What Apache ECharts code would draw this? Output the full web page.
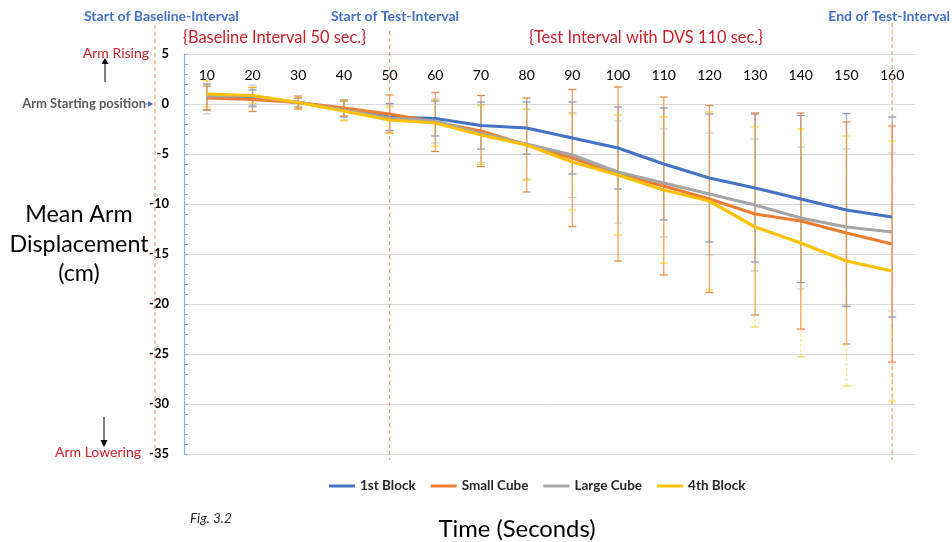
<!DOCTYPE html>
<html>
<head>
<meta charset="utf-8">
<script src="https://cdn.jsdelivr.net/npm/echarts@6/dist/echarts.min.js"></script>
<style>
html,body{margin:0;padding:0;background:#fff;}
#main{width:952px;height:542px;}
</style>
</head>
<body>
<div id="main"></div>
<script>
// ---- Data ----
const categories = ['10','20','30','40','50','60','70','80','90','100','110','120','130','140','150','160'];
const yTicks = [5, 0, -5, -10, -15, -20, -25, -30, -35];

const block1     = [0.7, 0.6, 0.15, -0.5, -1.3, -1.45, -2.15, -2.4, -3.4, -4.4, -6.0, -7.4, -8.4, -9.5, -10.6, -11.3];
const smallCube  = [0.6, 0.45, 0.15, -0.4, -1.0, -1.8, -2.7, -4.1, -5.4, -7.0, -8.2, -9.5, -11.0, -11.7, -12.9, -14.0];
const largeCube  = [0.8, 0.8, 0.15, -0.6, -1.4, -1.7, -2.95, -4.0, -5.1, -6.8, -7.9, -9.0, -10.1, -11.4, -12.3, -12.8];
const block4     = [1.0, 0.85, 0.15, -0.7, -1.6, -1.9, -3.1, -4.1, -5.8, -7.1, -8.6, -9.7, -12.3, -13.9, -15.7, -16.7];

const block1Err    = [1.3, 0.8, 0.45, 0.8, 1.35, 1.75, 2.35, 2.6, 3.6, 4.1, 5.6, 6.4, 7.4, 8.35, 9.65, 10.0];
const smallCubeErr = [1.2, 1.2, 0.65, 0.8, 1.9, 2.95, 3.55, 4.7, 6.85, 8.7, 8.9, 9.35, 10.1, 10.8, 11.1, 11.8];
const largeCubeErr = [1.8, 1.1, 0.5, 1.0, 1.3, 2.2, 2.9, 3.5, 4.25, 5.1, 5.4, 6.1, 6.6, 7.1, 7.8, 7.9];
const block4Err    = [1.3, 0.8, 0.5, 1.0, 1.3, 2.3, 2.95, 3.55, 4.8, 6.0, 7.3, 8.9, 10.0, 11.4, 12.5, 13.0];

const seriesNames = ['1st Block', 'Small Cube', 'Large Cube', '4th Block'];
const colors = ['#4472C4', '#ED7D31', '#A5A5A5', '#FFC000'];

const FONT = 'Lato, "Open Sans", sans-serif';

function errSeries(idx, vals, errs, color, opacity, dashed) {
  return {
    type: 'custom',
    name: 'err' + idx,
    silent: true,
    z: 1,
    encode: { x: 0, y: [1, 2] },
    data: vals.map((v, i) => [i, v - errs[i], v + errs[i]]),
    renderItem: function (params, api) {
      const lo = api.coord([api.value(0), api.value(1)]);
      const hi = api.coord([api.value(0), api.value(2)]);
      const w = 4;
      const st = { stroke: color, lineWidth: 1.3, opacity: Math.min(1, opacity + 0.2) };
      const stv = { stroke: color, lineWidth: 1.3, opacity: opacity, lineDash: dashed ? [3, 2] : null };
      return {
        type: 'group',
        children: [
          { type: 'line', shape: { x1: lo[0], y1: lo[1], x2: hi[0], y2: hi[1] }, style: stv },
          { type: 'line', shape: { x1: lo[0] - w, y1: lo[1], x2: lo[0] + w, y2: lo[1] }, style: st },
          { type: 'line', shape: { x1: hi[0] - w, y1: hi[1], x2: hi[0] + w, y2: hi[1] }, style: st }
        ]
      };
    }
  };
}

function lineSeries(i, data) {
  return {
    type: 'line',
    name: seriesNames[i],
    data: data,
    symbol: 'none',
    z: 3 + i,
    lineStyle: { color: colors[i], width: 3.2 },
    itemStyle: { color: colors[i] }
  };
}

const chart = echarts.init(document.getElementById('main'), null, { renderer: 'canvas' });

const option = {
  animation: false,
  backgroundColor: '#ffffff',
  grid: { left: 184, right: 37, top: 54, bottom: 88, containLabel: false },
  legend: {
    data: seriesNames,
    left: 324,
    top: 474,
    icon: 'rect',
    itemWidth: 26,
    itemHeight: 3,
    itemGap: 15,
    textStyle: { fontFamily: FONT, fontWeight: 'bold', fontSize: 13.5, color: '#262626' }
  },
  xAxis: {
    type: 'category',
    data: categories,
    position: 'top',
    boundaryGap: true,
    axisLine: { show: false },
    axisTick: { show: false },
    axisLabel: { inside: true, margin: 14, fontFamily: FONT, fontSize: 14, color: '#000000' },
    splitLine: { show: false }
  },
  yAxis: {
    type: 'value',
    min: -35,
    max: 5,
    interval: 5,
    axisLine: { show: true, lineStyle: { color: '#8FAADC', width: 1.2 } },
    axisTick: { show: true, inside: true, length: 4, lineStyle: { color: '#8FAADC' } },
    minorTick: { show: true, splitNumber: 5, length: 4, lineStyle: { color: '#8FAADC' } },
    axisLabel: {
      margin: 15, fontFamily: FONT, fontWeight: 'bold', fontSize: 13, color: '#000000',
      formatter: function (v) { return yTicks.indexOf(v) >= 0 ? String(v) : ''; }
    },
    splitLine: { show: true, lineStyle: { color: '#D9D9D9', width: 1 } }
  },
  series: [
    errSeries(0, block1, block1Err, colors[0], 0.5, false),
    errSeries(1, smallCube, smallCubeErr, colors[1], 0.7, false),
    errSeries(2, largeCube, largeCubeErr, colors[2], 0.35, false),
    errSeries(3, block4, block4Err, colors[3], 0.45, true),
    lineSeries(0, block1),
    lineSeries(1, smallCube),
    lineSeries(2, largeCube),
    lineSeries(3, block4)
  ]
};
chart.setOption(option);

// Annotation positions derived from the axes
const x50 = chart.convertToPixel({ xAxisIndex: 0 }, '50');
const x160 = chart.convertToPixel({ xAxisIndex: 0 }, '160');
const y0 = chart.convertToPixel({ yAxisIndex: 0 }, 0);
const yBottom = chart.convertToPixel({ yAxisIndex: 0 }, -35);
const yTop = chart.convertToPixel({ yAxisIndex: 0 }, 5);

const dash = { stroke: '#F4A26B', lineWidth: 1.2, lineDash: [4, 3] };
const blueBold = { fontFamily: FONT, fontWeight: 'bold', fontSize: 14, fill: '#4472C4' };
const redText = { fontFamily: FONT, fontSize: 16.4, fill: '#C8202A' };

chart.setOption({
  graphic: [
    { type: 'line', shape: { x1: 155, y1: 25, x2: 155, y2: yBottom + 7 }, style: dash, z: 10 },
    { type: 'line', shape: { x1: x50, y1: 31, x2: x50, y2: yBottom + 6 }, style: dash, z: 10 },
    { type: 'line', shape: { x1: x160, y1: 23, x2: x160, y2: yBottom + 6 }, style: dash, z: 10 },

    { type: 'text', x: 84, y: 9, style: Object.assign({ text: 'Start of Baseline-Interval' }, blueBold) },
    { type: 'text', x: 331, y: 9, style: Object.assign({ text: 'Start of Test-Interval' }, blueBold) },
    { type: 'text', x: 950, y: 9, style: Object.assign({ text: 'End of Test-Interval', align: 'right' }, blueBold) },

    { type: 'text', x: 183, y: 30, style: Object.assign({ text: '{Baseline Interval 50 sec.}' }, redText) },
    { type: 'text', x: 529, y: 30, style: Object.assign({ text: '{Test Interval with DVS 110 sec.}' }, redText) },

    { type: 'text', x: 149, y: yTop - 1, style: { text: 'Arm Rising', align: 'right', verticalAlign: 'middle', fontFamily: FONT, fontSize: 14, fill: '#C8202A' } },
    { type: 'text', x: 141, y: yBottom - 2, style: { text: 'Arm Lowering', align: 'right', verticalAlign: 'middle', fontFamily: FONT, fontSize: 14, fill: '#C8202A' } },
    { type: 'text', x: 146, y: y0, style: { text: 'Arm Starting position', align: 'right', verticalAlign: 'middle', fontFamily: FONT, fontWeight: 'bold', fontSize: 13, fill: '#595959' } },

    // arrows
    { type: 'line', shape: { x1: 105, y1: 82, x2: 105, y2: 62 }, style: { stroke: '#000', lineWidth: 1 } },
    { type: 'polygon', shape: { points: [[101.5, 64], [108.5, 64], [105, 58]] }, style: { fill: '#000' } },
    { type: 'line', shape: { x1: 104, y1: 417, x2: 104, y2: 442 }, style: { stroke: '#000', lineWidth: 1 } },
    { type: 'polygon', shape: { points: [[100.5, 440], [107.5, 440], [104, 447]] }, style: { fill: '#000' } },
    { type: 'line', shape: { x1: 146, y1: y0, x2: 150, y2: y0 }, style: { stroke: '#4472C4', lineWidth: 1 } },
    { type: 'polygon', shape: { points: [[148, y0 - 3], [148, y0 + 3], [153, y0]] }, style: { fill: '#4472C4' } },

    // axis titles
    { type: 'text', x: 79, y: 244, style: { text: 'Mean Arm\nDisplacement\n(cm)', align: 'center', verticalAlign: 'middle', lineHeight: 29.5, fontFamily: FONT, fontSize: 23.3, fill: '#000' } },
    { type: 'text', x: 517, y: 529, style: { text: 'Time (Seconds)', align: 'center', verticalAlign: 'middle', fontFamily: FONT, fontSize: 23.8, fill: '#000' } },
    { type: 'text', x: 190, y: 519, style: { text: 'Fig. 3.2', verticalAlign: 'middle', fontFamily: FONT, fontStyle: 'italic', fontSize: 13.5, fill: '#262626' } }
  ]
});
</script>
</body>
</html>
